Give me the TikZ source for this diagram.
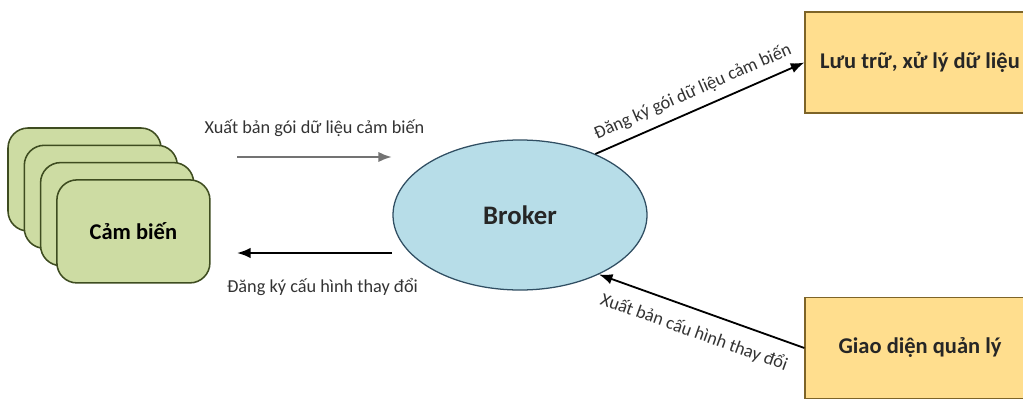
\documentclass[tikz,border=0pt]{standalone}
\usepackage{fontspec}
\setmainfont{Carlito}
\usetikzlibrary{shapes.geometric}
\usetikzlibrary{arrows.meta}

\definecolor{sensorfill}{RGB}{205,220,163}
\definecolor{sensorline}{RGB}{62,76,32}
\definecolor{brokerfill}{RGB}{183,221,232}
\definecolor{brokerline}{RGB}{48,78,98}
\definecolor{boxfill}{RGB}{255,222,142}
\definecolor{boxline}{RGB}{125,100,40}

\tikzset{
  sensorbox/.style = {draw = sensorline, fill = sensorfill, line width = 1.1pt,
    rounded corners = 0.5cm, minimum width = 3.825cm, minimum height = 2.575cm,
    font = \fontsize{16}{19}\selectfont\bfseries},
  brokernode/.style = {ellipse, draw = brokerline, fill = brokerfill, line width = 0.9pt,
    minimum width = 6.35cm, minimum height = 3.75cm,
    font = \fontsize{19}{22}\selectfont\bfseries, text = black!85},
  appbox/.style = {draw = boxline, fill = boxfill, line width = 0.9pt,
    minimum width = 5.75cm, minimum height = 2.525cm,
    font = \fontsize{16}{19}\selectfont\bfseries, text = black!85},
  msg/.style = {font = \fontsize{13}{15}\selectfont, text = black!80},
  >={Latex[length=3.4mm,width=2.6mm]}
}

\begin{document}
\begin{tikzpicture}
        \clip (0,0) rectangle (25.575,9.95);
        \fill[white] (0,0) rectangle (25.575,9.95);
        % stack of sensors
        \node[sensorbox] (sensor0) at (2.1125,5.4625) {};
        \node[sensorbox] (sensor1) at (2.52,5.03) {};
        \node[sensorbox] (sensor2) at (2.9275,4.5975) {};
        \node[sensorbox] (sensor3) at (3.335,4.165) {Cảm biến};
        \node[brokernode] (broker) at (13,4.575) {Broker};
        \node[appbox] (store) at (23,8.3875) {Lưu trữ, xử lý dữ liệu};
        \node[appbox] (gui) at (23,1.25) {Giao diện quản lý};
        \coordinate (pubA) at (5.925,6.025);
        \coordinate (pubB) at (9.8,6.025);
        \coordinate (subA) at (9.8,3.625);
        \coordinate (subB) at (5.925,3.625);
        \draw[->,line width = 1.8pt,color = black!55] (pubA)--(pubB)
            node[msg,midway,above = .35cm]{Xuất bản gói dữ liệu cảm biến};
        \draw[->,line width = 1.4pt] (subA)--(subB)
            node[msg,midway,below = .5cm,xshift = .2cm]{Đăng ký cấu hình thay đổi};
        \draw[->,line width = 1.3pt] (broker.39)--(store.west)
            node[msg,midway,sloped,above = .1cm]{Đăng ký gói dữ liệu cảm biến};
        \draw[->,line width = 1.3pt] (gui.west)--(broker.-37)
            node[msg,midway,sloped,below = .2cm]{Xuất bản cấu hình thay đổi};
\end{tikzpicture}
\end{document}
